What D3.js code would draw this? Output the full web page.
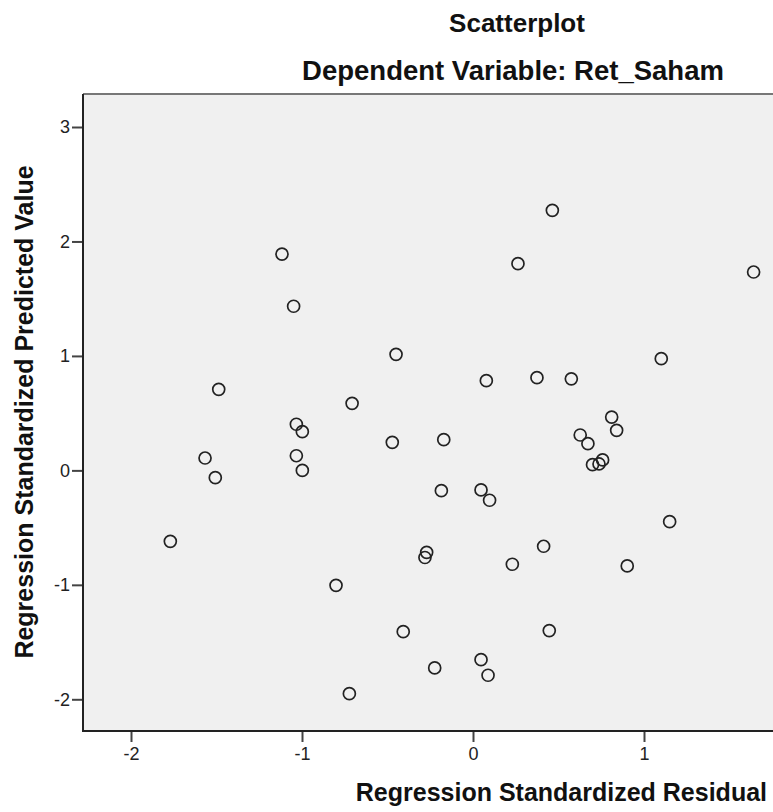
<!DOCTYPE html>
<html>
<head>
<meta charset="utf-8">
<script src="https://cdn.jsdelivr.net/npm/d3@7"></script>
<style>
  body { margin: 0; background: #fff; }
  svg { display: block; font-family: "Liberation Sans", Arial, sans-serif; }
</style>
</head>
<body>
<script>
// residuals (x) and predicted values (y)
const residuals = [
  -1.117, -1.049, -0.450, -1.487, -0.707, -1.033, -0.998, -0.472, -1.567, -1.033, -0.998, -1.507,
  0.464, 0.263, 1.641, 1.101, 0.078, 0.374, 0.575, -0.171, 0.811, 0.840, 0.627, 0.672, 0.699, 0.737, 0.758,
  -0.185, 0.047, 0.097, 1.150, 0.413, 0.230, 0.902, 0.446, 0.047, 0.088, -0.224, -0.271, -0.281,
  -1.770, -0.801, -0.408, -0.723
];
const predicted = [
  1.890, 1.434, 1.014, 0.708, 0.586, 0.403, 0.338, 0.245, 0.108, 0.128, 0.000, -0.064,
  2.272, 1.806, 1.733, 0.976, 0.784, 0.810, 0.800, 0.268, 0.466, 0.350, 0.309, 0.233, 0.050, 0.056, 0.091,
  -0.177, -0.171, -0.261, -0.448, -0.663, -0.820, -0.835, -1.400, -1.654, -1.790, -1.726, -0.716, -0.761,
  -0.620, -1.004, -1.409, -1.951
];
const xTicks = [-2, -1, 0, 1];
const yTicks = [-2, -1, 0, 1, 2, 3];

const titleLines = ["Scatterplot", "Dependent Variable: Ret_Saham"];
const xTitle = "Regression Standardized Residual";
const yTitle = "Regression Standardized Predicted Value";

const W = 773, H = 812;
const plot = { left: 83, top: 94, right: 773, bottom: 731 };

const svg = d3.select("body").append("svg")
  .attr("width", W).attr("height", H);

// scales: pixel per unit measured from the tick marks
const x = d3.scaleLinear().domain([-2, 1]).range([131, 644]);
const y = d3.scaleLinear().domain([-2, 3]).range([699.3, 127]);

// plot background
svg.append("rect")
  .attr("x", plot.left).attr("y", plot.top)
  .attr("width", plot.right - plot.left).attr("height", plot.bottom - plot.top)
  .attr("fill", "#f0f0f0");

// frame (top is lighter, no right side: picture is cut there)
svg.append("line")
  .attr("x1", plot.left).attr("x2", plot.right)
  .attr("y1", plot.top).attr("y2", plot.top)
  .attr("stroke", "#777").attr("stroke-width", 2);

// axes
const xAxis = d3.axisBottom(x).tickValues(xTicks).tickSize(11).tickPadding(5)
  .tickFormat(d => String(d));
const yAxis = d3.axisLeft(y).tickValues(yTicks).tickSize(11).tickPadding(2)
  .tickFormat(d => String(d));

const gx = svg.append("g").attr("transform", `translate(0,${plot.bottom})`).call(xAxis);
const gy = svg.append("g").attr("transform", `translate(${plot.left},0)`).call(yAxis);

[gx, gy].forEach(g => {
  g.select(".domain").remove();
  g.selectAll(".tick line").attr("stroke", "#444").attr("stroke-width", 2);
  g.selectAll(".tick text")
    .attr("fill", "#222")
    .style("font-size", "18px")
    .style("font-family", "'Liberation Sans', Arial, sans-serif");
});

svg.append("line")
  .attr("x1", plot.left).attr("x2", plot.left)
  .attr("y1", plot.top).attr("y2", plot.bottom + 1)
  .attr("stroke", "#222").attr("stroke-width", 2);
svg.append("line")
  .attr("x1", plot.left - 1).attr("x2", plot.right)
  .attr("y1", plot.bottom).attr("y2", plot.bottom)
  .attr("stroke", "#222").attr("stroke-width", 2);

// points
const pts = residuals.map((r, i) => ({ r: r, p: predicted[i] }));
svg.append("g").selectAll("circle")
  .data(pts)
  .enter()
  .append("circle")
  .attr("cx", d => x(d.r))
  .attr("cy", d => y(d.p))
  .attr("r", 6)
  .attr("fill", "none")
  .attr("stroke", "#222")
  .attr("stroke-width", 1.7);

// titles
svg.append("text")
  .attr("x", 517).attr("y", 32)
  .attr("text-anchor", "middle")
  .style("font-size", "26px").style("font-weight", "bold")
  .attr("fill", "#111")
  .text(titleLines[0]);
svg.append("text")
  .attr("x", 513).attr("y", 80)
  .attr("text-anchor", "middle")
  .style("font-size", "27.5px").style("font-weight", "bold")
  .attr("fill", "#111")
  .text(titleLines[1]);

// axis titles
svg.append("text")
  .attr("x", 767).attr("y", 801)
  .attr("text-anchor", "end")
  .style("font-size", "25px").style("font-weight", "bold")
  .attr("fill", "#111")
  .text(xTitle);
svg.append("text")
  .attr("transform", "translate(33,412) rotate(-90)")
  .attr("text-anchor", "middle")
  .style("font-size", "25px").style("font-weight", "bold")
  .attr("fill", "#111")
  .text(yTitle);
</script>
</body>
</html>
